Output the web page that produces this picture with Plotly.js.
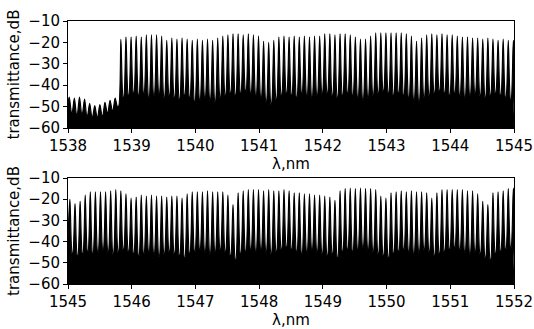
<!DOCTYPE html>
<html><head><meta charset="utf-8">
<script src="https://cdn.plot.ly/plotly-3.0.1.min.js"></script>
<style>html,body{margin:0;padding:0;background:#fff}#chart{width:534px;height:329px}</style>
</head><body><div id="chart"></div>
<script>
// ---- Top panel (1538-1545 nm): fringe peak wavelengths, peak levels, trough levels (dB)
const topPeakWl = [1538.02,1538.10,1538.18,1538.26,1538.34,1538.42,1538.50,1538.58,1538.66,1538.74,
  1538.83,1538.91,1538.99,1539.07,1539.15,1539.23,1539.31,1539.39,1539.47,1539.55,
  1539.63,1539.71,1539.79,1539.87,1539.95,1540.03,1540.11,1540.19,1540.27,1540.35,
  1540.43,1540.51,1540.59,1540.67,1540.75,1540.83,1540.91,1540.99,1541.07,1541.15,
  1541.23,1541.31,1541.39,1541.47,1541.55,1541.63,1541.71,1541.79,1541.87,1541.95,
  1542.03,1542.11,1542.19,1542.27,1542.35,1542.43,1542.51,1542.59,1542.67,1542.75,
  1542.83,1542.91,1542.99,1543.07,1543.15,1543.23,1543.31,1543.39,1543.47,1543.55,
  1543.63,1543.71,1543.79,1543.87,1543.95,1544.03,1544.11,1544.19,1544.27,1544.35,
  1544.43,1544.51,1544.59,1544.67,1544.75,1544.83,1544.91,1544.99];
const topPeakDb = [-45.5,-46,-45.5,-46.5,-48.5,-49.5,-49,-48,-47,-46,
  -18.5,-17.5,-17.5,-17,-17.5,-16.5,-16.5,-16.5,-17,-19,
  -18,-18.5,-18,-18.5,-19,-18.5,-19,-18.5,-19,-18,
  -17,-16.5,-16,-16,-16.5,-16,-16.5,-17,-19.5,-20,
  -19,-17.5,-17,-17.5,-17,-17.5,-17,-17.5,-17,-17,
  -16,-16,-16.5,-16,-16,-16.5,-17.5,-18.5,-18.5,-17,
  -15.5,-15.5,-15.5,-15.5,-15.5,-15.5,-16,-17,-19.5,-18,
  -16.5,-16,-16.5,-16,-16.5,-16.5,-17,-17.5,-17.5,-18,
  -18,-18.5,-18,-18.5,-19,-18.5,-19,-19];
const topTroughDb = [-53,-54,-53.5,-54.5,-55,-55,-54.5,-53,-52,-50,
  -46,-45,-44,-45,-44,-46,-45,-44,-46,-45,
  -46,-47,-45,-46,-48,-47,-46,-47,-48,-46,
  -45,-44,-45,-44,-43,-44,-45,-46,-48,-49,
  -47,-45,-44,-45,-46,-44,-45,-46,-45,-44,
  -44,-45,-46,-45,-44,-45,-46,-47,-46,-45,
  -44,-43,-44,-45,-44,-45,-46,-47,-48,-46,
  -45,-44,-43,-44,-45,-44,-45,-46,-45,-44,
  -45,-46,-45,-44,-45,-46,-47,-46];

// ---- Bottom panel (1545-1552 nm)
const botPeakWl = [1545.03,1545.11,1545.19,1545.27,1545.35,1545.43,1545.51,1545.59,1545.67,1545.75,
  1545.83,1545.91,1545.99,1546.07,1546.15,1546.23,1546.31,1546.39,1546.47,1546.55,
  1546.63,1546.71,1546.79,1546.87,1546.95,1547.03,1547.11,1547.19,1547.27,1547.35,
  1547.43,1547.51,1547.59,1547.67,1547.75,1547.83,1547.91,1547.99,1548.07,1548.15,
  1548.23,1548.31,1548.39,1548.47,1548.55,1548.63,1548.71,1548.79,1548.87,1548.95,
  1549.03,1549.11,1549.19,1549.27,1549.35,1549.43,1549.51,1549.59,1549.67,1549.75,
  1549.83,1549.91,1549.99,1550.07,1550.15,1550.23,1550.31,1550.39,1550.47,1550.55,
  1550.63,1550.71,1550.79,1550.87,1550.95,1551.03,1551.11,1551.19,1551.27,1551.35,
  1551.43,1551.51,1551.59,1551.67,1551.75,1551.83,1551.91,1551.99];
const botPeakDb = [-20,-22,-21,-18,-16.5,-16.5,-16.5,-16.5,-16,-15.5,
  -16,-17.5,-19.5,-19,-18,-18.5,-18,-18.5,-18.5,-19,
  -18.5,-18.5,-19.5,-17.5,-16.5,-16.5,-16.5,-16,-16.5,-16.5,
  -16.5,-18,-22.5,-17,-16,-15.5,-15.5,-15.5,-16,-15.5,
  -16,-16,-15.5,-16,-17,-17,-17.5,-17.5,-18,-18,
  -18.5,-19,-20.5,-16,-15,-14.8,-15,-14.8,-15,-15,
  -15.5,-18.5,-19.5,-17,-16.5,-16,-16.5,-16,-16.5,-16.5,
  -17,-19.5,-17,-15.5,-15.5,-15.5,-15.5,-15.5,-16,-16,
  -17.5,-21,-22.5,-17,-16.5,-16,-15,-14.8];
const botTroughDb = [-46,-47,-46,-45,-46,-45,-44,-45,-46,-45,
  -44,-45,-46,-47,-46,-45,-46,-47,-46,-45,
  -46,-47,-48,-46,-45,-44,-45,-46,-45,-44,
  -45,-47,-49,-46,-45,-44,-45,-44,-45,-46,
  -45,-44,-43,-44,-45,-46,-45,-44,-45,-46,
  -47,-46,-48,-45,-44,-45,-44,-43,-44,-45,
  -46,-47,-48,-46,-45,-44,-45,-46,-45,-44,
  -45,-47,-46,-45,-44,-43,-44,-45,-46,-45,
  -46,-48,-49,-46,-45,-44,-43,-44];

const topTicks = [1538,1539,1540,1541,1542,1543,1544,1545];
const botTicks = [1545,1546,1547,1548,1549,1550,1551,1552];
const yTicks = [-60,-50,-40,-30,-20,-10];
const topRange = [1538,1545], botRange = [1545,1552], yRange = [-60,-10];
const PEAK_HALF_WIDTH = 0.036; // drawing style: half base width of each fringe (nm)

// closed outline: axis floor -> fringes (foot, apex, foot) -> axis floor
function comb(peakWl, peakDb, troughDb, xr, yr, xa, ya) {
  const x = [xr[0]], y = [yr[0]];
  for (let i = 0; i < peakWl.length; i++) {
    const leftLevel = i > 0 ? troughDb[i - 1] : troughDb[0];
    x.push(peakWl[i] - PEAK_HALF_WIDTH); y.push(leftLevel);
    x.push(peakWl[i]); y.push(peakDb[i]);
    x.push(peakWl[i] + PEAK_HALF_WIDTH); y.push(troughDb[i]);
  }
  x.push(xr[1]); y.push(troughDb[troughDb.length - 1]);
  x.push(xr[1]); y.push(yr[0]);
  return {x, y, xaxis: xa, yaxis: ya, type: 'scatter', mode: 'lines', fill: 'toself',
    fillcolor: '#000', line: {color: '#000', width: 1.15, shape: 'spline', smoothing: 0.8},
    hoverinfo: 'skip'};
}

const font = {family: 'DejaVu Sans, Arial, sans-serif', size: 15, color: '#000'};
const ax = {showline: true, linecolor: '#000', linewidth: 1, mirror: true, ticks: 'outside',
  ticklen: 4, tickcolor: '#000', tickwidth: 1, showgrid: false, zeroline: false, tickfont: font};

const data = [
  comb(topPeakWl, topPeakDb, topTroughDb, topRange, yRange, 'x', 'y'),
  comb(botPeakWl, botPeakDb, botTroughDb, botRange, yRange, 'x2', 'y2')
];

const layout = {
  width: 534, height: 329, margin: {l: 68, r: 20, t: 21, b: 45},
  paper_bgcolor: '#fff', plot_bgcolor: '#fff', showlegend: false,
  xaxis: Object.assign({}, ax, {domain: [0, 1], range: topRange, tickvals: topTicks, anchor: 'y',
    title: {text: 'λ,nm', font: font, standoff: 1}}),
  yaxis: Object.assign({}, ax, {domain: [0.593, 1], range: yRange, tickvals: yTicks, anchor: 'x',
    title: {text: 'transmittance,dB', font: font, standoff: 5}}),
  xaxis2: Object.assign({}, ax, {domain: [0, 1], range: botRange, tickvals: botTicks, anchor: 'y2',
    title: {text: 'λ,nm', font: font, standoff: 3}}),
  yaxis2: Object.assign({}, ax, {domain: [0, 0.403], range: yRange, tickvals: yTicks, anchor: 'x2',
    title: {text: 'transmittance,dB', font: font, standoff: 5}})
};

Plotly.newPlot('chart', data, layout, {staticPlot: true, displayModeBar: false});
</script></body></html>
